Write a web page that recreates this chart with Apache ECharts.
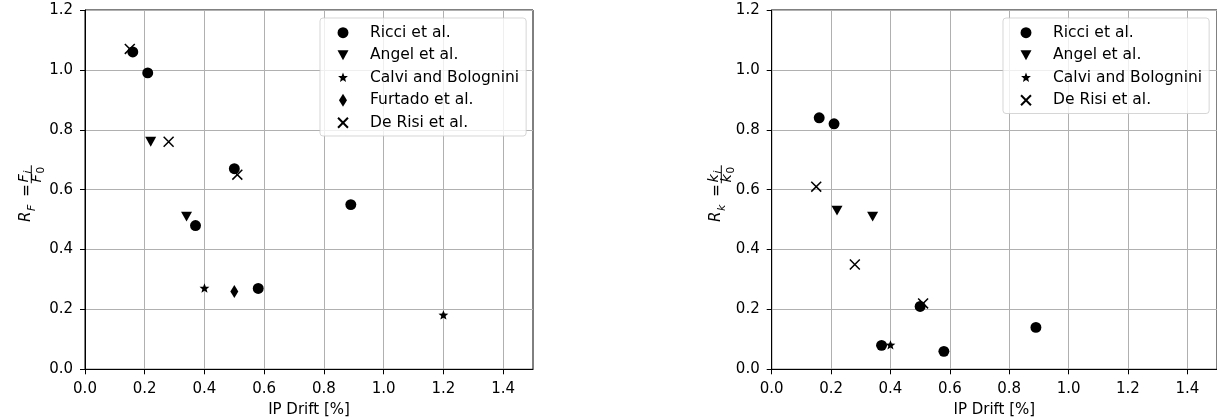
<!DOCTYPE html>
<html><head><meta charset="utf-8">
<script src="https://cdn.jsdelivr.net/npm/echarts@6/dist/echarts.min.js"></script>
<style>html,body{margin:0;padding:0;background:#fff}#c{width:1217px;height:418px}</style>
</head><body><div id="c"></div><script>
// ---------------- data ----------------
const seriesNames = ['Ricci et al.', 'Angel et al.', 'Calvi and Bolognini', 'Furtado et al.', 'De Risi et al.'];
const xTicks = [0, 0.2, 0.4, 0.6, 0.8, 1.0, 1.2, 1.4];
const yTicks = [0, 0.2, 0.4, 0.6, 0.8, 1.0, 1.2];
const xAxisName = 'IP Drift [%]';

// Left panel: R_F vs IP drift
const rfRicci = [[0.16, 1.06], [0.21, 0.99], [0.50, 0.67], [0.37, 0.48], [0.89, 0.55], [0.58, 0.27]];
const rfAngel = [[0.22, 0.76], [0.34, 0.51]];
const rfCalvi = [[0.40, 0.27], [1.20, 0.18]];
const rfFurtado = [[0.50, 0.26]];
const rfDeRisi = [[0.15, 1.07], [0.28, 0.76], [0.51, 0.65]];

// Right panel: R_k vs IP drift
const rkRicci = [[0.16, 0.84], [0.21, 0.82], [0.37, 0.08], [0.50, 0.21], [0.58, 0.06], [0.89, 0.14]];
const rkAngel = [[0.22, 0.53], [0.34, 0.51]];
const rkCalvi = [[0.40, 0.08]];
const rkDeRisi = [[0.15, 0.61], [0.28, 0.35], [0.51, 0.22]];

// ---------------- style ----------------
const FONT = 'DejaVu Sans';
const PAD = 'M0,0M100,100';
function starPath(ro, ri) {
  let d = '';
  for (let k = 0; k < 10; k++) {
    const r = k % 2 === 0 ? ro : ri;
    const a = (-90 + k * 36) * Math.PI / 180;
    d += (k === 0 ? 'M' : 'L') + (50 + r * Math.cos(a)).toFixed(2) + ',' + (50 + r * Math.sin(a)).toFixed(2);
  }
  return d + 'Z';
}
const symbols = {
  'Ricci et al.': 'path://' + PAD + 'M11,50A39,39 0 1,0 89,50A39,39 0 1,0 11,50Z',
  'Angel et al.': 'path://' + PAD + 'M10.7,14.5L89.3,14.5L50,85.5Z',
  'Calvi and Bolognini': 'path://' + PAD + starPath(37, 16),
  'Furtado et al.': 'path://' + PAD + 'M50,3.5L78.5,50L50,96.5L21.5,50Z',
  'De Risi et al.': 'path://' + PAD + 'M14.5,14.5L85.5,85.5M14.5,85.5L85.5,14.5'
};

function mkSeries(name, data, idx) {
  const isX = name === 'De Risi et al.';
  return {
    type: 'scatter', name, data, xAxisIndex: idx, yAxisIndex: idx,
    symbol: symbols[name], symbolSize: 14,
    itemStyle: { color: '#000', borderColor: '#000', borderWidth: isX ? 1.5 : 0, opacity: 1 },
    emphasis: { disabled: true },
    silent: true
  };
}

function mkX(i) {
  return {
    type: 'value', gridIndex: i, min: 0, max: 1.5, interval: 0.2,
    name: xAxisName, nameLocation: 'middle', nameGap: 33,
    nameTextStyle: { fontSize: 15, color: '#000', fontFamily: FONT },
    axisLine: { show: true, onZero: false, lineStyle: { color: '#000', width: 1 } },
    axisTick: { show: true, inside: false, length: 5, customValues: xTicks, lineStyle: { color: '#000', width: 1 } },
    axisLabel: { customValues: xTicks, formatter: v => Number(v).toFixed(1), margin: 12, fontSize: 15, color: '#000', fontFamily: FONT },
    splitLine: { show: true, lineStyle: { color: '#b0b0b0', width: 1 } }
  };
}
function mkY(i) {
  return {
    type: 'value', gridIndex: i, min: 0, max: 1.2, interval: 0.2,
    axisLine: { show: true, onZero: false, lineStyle: { color: '#000', width: 1 } },
    axisTick: { show: true, inside: false, length: 5, lineStyle: { color: '#000', width: 1 } },
    axisLabel: { formatter: v => Number(v).toFixed(1), margin: 12, fontSize: 15, color: '#000', fontFamily: FONT },
    splitLine: { show: true, lineStyle: { color: '#b0b0b0', width: 1 } }
  };
}
function mkLegend(left, names) {
  return {
    orient: 'vertical', left, top: 18, data: names,
    itemWidth: 44, itemHeight: 14, itemGap: 6.5,
    padding: [6.7, 7, 5.3, 15],
    backgroundColor: 'rgba(255,255,255,0.8)', borderColor: 'rgba(204,204,204,0.8)', borderWidth: 1, borderRadius: 3,
    symbolKeepAspect: true, selectedMode: false,
    textStyle: { fontSize: 15.5, color: '#000', fontFamily: FONT, lineHeight: 16 }
  };
}

// y-axis math label: R_s = a_i / a_0
function txt(t, x, y, size, italic, align) {
  return {
    type: 'text', x, y, silent: true,
    style: { text: t, font: (italic ? 'italic ' : '') + size + 'px "' + FONT + '"', fill: '#000',
      align: align || 'left', verticalAlign: 'middle', textAlign: align || 'left', textVerticalAlign: 'middle' }
  };
}
function mathLabel(px, py, sub, letter) {
  return {
    type: 'group', x: px, y: py, rotation: Math.PI / 2, silent: true,
    children: [
      txt('R', 0, -4.5, 15, true),
      txt(sub, 11, 1.5, 11, true),
      txt('=', 31.5, -3.5, 15, false, 'center'),
      txt(letter, 39.5, -7, 14.5, true),
      txt('i', 48.5, -3, 10.5, true),
      { type: 'line', silent: true, shape: { x1: 38.7, y1: 0.3, x2: 56.7, y2: 0.3 }, style: { stroke: '#000', lineWidth: 1 } },
      txt(letter, 39.5, 6.5, 14.5, true),
      txt('0', 48.5, 10, 10.5, false)
    ]
  };
}

const gridBase = { top: 10, height: 359.3, show: true, borderColor: '#000', borderWidth: 1, backgroundColor: 'transparent', containLabel: false, outerBoundsMode: 'none' };
const chart = echarts.init(document.getElementById('c'), null, { renderer: 'canvas' });
chart.setOption({
  animation: false,
  backgroundColor: '#fff',
  grid: [
    Object.assign({ left: 85, width: 448 }, gridBase),
    Object.assign({ left: 771.7, width: 445.3 }, gridBase)
  ],
  xAxis: [mkX(0), mkX(1)],
  yAxis: [mkY(0), mkY(1)],
  legend: [mkLegend(320, seriesNames), mkLegend(1003, ['Ricci et al.', 'Angel et al.', 'Calvi and Bolognini', 'De Risi et al.'])],
  graphic: [mathLabel(31, 222, 'F', 'F'), mathLabel(721, 222, 'k', 'k')],
  series: [
    mkSeries('Ricci et al.', rfRicci, 0),
    mkSeries('Angel et al.', rfAngel, 0),
    mkSeries('Calvi and Bolognini', rfCalvi, 0),
    mkSeries('Furtado et al.', rfFurtado, 0),
    mkSeries('De Risi et al.', rfDeRisi, 0),
    mkSeries('Ricci et al.', rkRicci, 1),
    mkSeries('Angel et al.', rkAngel, 1),
    mkSeries('Calvi and Bolognini', rkCalvi, 1),
    mkSeries('De Risi et al.', rkDeRisi, 1)
  ]
});
</script></body></html>
